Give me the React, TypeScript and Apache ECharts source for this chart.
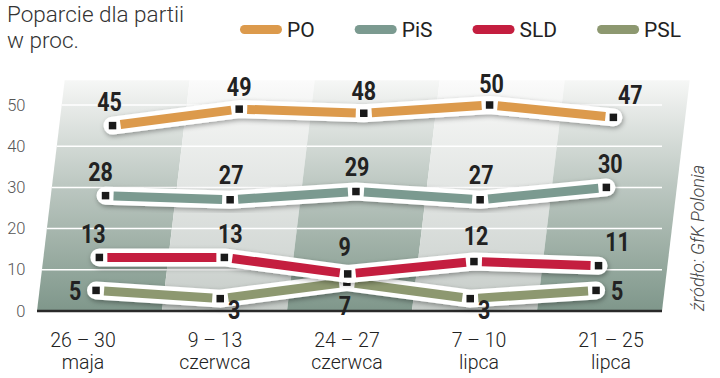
import React, { useEffect, useRef } from "react";
import * as echarts from "echarts";

// ---- data ----
const categories = ["26 – 30\nmaja", "9 – 13\nczerwca", "24 – 27\nczerwca", "7 – 10\nlipca", "21 – 25\nlipca"];
const seriesNames = ["PO", "PiS", "SLD", "PSL"];
const poValues = [45, 49, 48, 50, 47];
const pisValues = [28, 27, 29, 27, 30];
const sldValues = [13, 13, 9, 12, 11];
const pslValues = [5, 3, 7, 3, 5];
const yTicks = [0, 10, 20, 30, 40, 50];
const titleText = "Poparcie dla partii\nw proc.";
const sourceText = "źródło: GfK Polonia";

// ---- styles ----
const colors: Record<string, string> = { PO: "#dc9a4c", PiS: "#7b9a90", SLD: "#c41e3f", PSL: "#8d9870" };
// label offsets (dx, dy) relative to marker, per series
const labelOffsets: Record<string, number[][]> = {
  PO: [[-3, -23], [0, -22], [0, -22], [2, -21], [17, -22]],
  PiS: [[-5, -23], [1, -24], [1, -24], [1, -24], [4, -23]],
  SLD: [[-6, -23], [6, -23], [-3, -26], [2, -25], [19, -23]],
  PSL: [[-21, 1], [14, 12], [-2, 24], [14, 12], [21, 1]],
};
const SHEAR = 0.1;
const BG_SHEAR = 0.12;
const BG_TOP_VALUE = 56;
const LABEL_FONT = "Roboto, 'DejaVu Sans', sans-serif";

const valuesByName: Record<string, number[]> = { PO: poValues, PiS: pisValues, SLD: sldValues, PSL: pslValues };

function makePartySeries(name: string) {
  const vals = valuesByName[name];
  const color = colors[name];
  return {
    type: "custom",
    name,
    coordinateSystem: "cartesian2d",
    xAxisIndex: 0,
    yAxisIndex: 0,
    itemStyle: { color },
    z: 3,
    silent: true,
    encode: { x: 0, y: 1 },
    data: vals.map((v, i) => [i, v]),
    renderItem: (params: any, api: any) => {
      if (params.dataIndex !== 0) return null;
      const pts = vals.map((v, i) => {
        const c = api.coord([i, v]);
        const y0 = api.coord([i, 0])[1];
        return [c[0] + SHEAR * (y0 - c[1]), c[1]];
      });
      const children: any[] = [];
      children.push({
        type: "polyline",
        shape: { points: pts },
        style: {
          stroke: "#ffffff",
          lineWidth: 18,
          lineCap: "round",
          lineJoin: "round",
          fill: null,
          shadowBlur: 5,
          shadowColor: "rgba(0,0,0,0.35)",
          shadowOffsetY: 2,
          shadowOffsetX: 1,
        },
      });
      const gap = 8;
      for (let i = 0; i < pts.length - 1; i++) {
        const a = pts[i];
        const b = pts[i + 1];
        const dx = b[0] - a[0];
        const dy = b[1] - a[1];
        const len = Math.sqrt(dx * dx + dy * dy);
        const ux = dx / len;
        const uy = dy / len;
        children.push({
          type: "line",
          shape: { x1: a[0] + ux * gap, y1: a[1] + uy * gap, x2: b[0] - ux * gap, y2: b[1] - uy * gap },
          style: { stroke: color, lineWidth: 9, lineCap: "butt" },
        });
      }
      pts.forEach((p, i) => {
        children.push({
          type: "rect",
          shape: { x: p[0] - 3.75, y: p[1] - 3.75, width: 7.5, height: 7.5 },
          style: { fill: "#1a1a1a" },
        });
        const off = labelOffsets[name][i];
        children.push({
          type: "text",
          x: p[0] + off[0],
          y: p[1] + off[1],
          scaleX: 0.86,
          style: {
            text: String(vals[i]),
            fill: "#222222",
            fontSize: 25,
            fontWeight: "bold",
            fontFamily: LABEL_FONT,
            align: "center",
            verticalAlign: "middle",
            textAlign: "center",
            textVerticalAlign: "middle",
          },
        });
      });
      return { type: "group", children };
    },
  };
}

const bgSeries = {
  type: "custom",
  name: "bg",
  coordinateSystem: "cartesian2d",
  xAxisIndex: 0,
  yAxisIndex: 0,
  silent: true,
  z: 1,
  data: categories.map((_, i) => [i, 0]),
  encode: { x: 0, y: 1 },
  renderItem: (params: any, api: any) => {
    const i = params.dataIndex;
    const c = api.coord([i, 0]);
    const bw = api.size([1, 0])[0];
    const y0 = c[1];
    const yTop = api.coord([i, BG_TOP_VALUE])[1];
    const xl0 = c[0] - bw / 2 + 5.5;
    const xr0 = xl0 + bw;
    const sh = (y: number) => BG_SHEAR * (y0 - y);
    const dark = i % 2 === 0;
    const stops = dark
      ? [
          { offset: 0, color: "#f6f7f6" },
          { offset: 0.12, color: "#e7eae8" },
          { offset: 0.45, color: "#bdc8c2" },
          { offset: 0.75, color: "#9bada3" },
          { offset: 1, color: "#7f978b" },
        ]
      : [
          { offset: 0, color: "#fbfbfb" },
          { offset: 0.12, color: "#f3f4f3" },
          { offset: 0.45, color: "#e3e6e4" },
          { offset: 0.75, color: "#d4d9d6" },
          { offset: 1, color: "#c5cbc7" },
        ];
    const children: any[] = [
      {
        type: "polygon",
        shape: {
          points: [
            [xl0, y0],
            [xr0, y0],
            [xr0 + sh(yTop), yTop],
            [xl0 + sh(yTop), yTop],
          ],
        },
        style: { fill: new echarts.graphic.LinearGradient(0, 0, 0, 1, stops) },
      },
    ];
    yTicks.forEach((t) => {
      if (t === 0) return;
      const y = api.coord([i, t])[1];
      const xr = i === categories.length - 1 ? xr0 : xr0 + sh(y);
      children.push({
        type: "line",
        shape: { x1: xl0 + sh(y), y1: y, x2: xr, y2: y },
        style: { stroke: "#ffffff", lineWidth: 1.5 },
      });
    });
    children.push({
      type: "line",
      shape: { x1: xl0, y1: y0, x2: xr0, y2: y0 },
      style: { stroke: "#2a2a2a", lineWidth: 2.5 },
    });
    return { type: "group", children };
  },
};

export default function App() {
  const ref = useRef<HTMLDivElement>(null);
  useEffect(() => {
    document.body.style.margin = "0";
    if (!ref.current) return;
    const chart = echarts.init(ref.current, null, { renderer: "svg" });
    chart.setOption({
      animation: false,
      backgroundColor: "#ffffff",
      title: {
        text: titleText,
        left: 7,
        top: 1,
        padding: 0,
        textStyle: { fontSize: 22.5, fontWeight: 300, fontFamily: "Roboto", color: "#333333", lineHeight: 26 },
      },
      legend: {
        data: seriesNames,
        left: 240,
        top: 19,
        padding: 0,
        itemWidth: 42,
        itemHeight: 9,
        itemGap: 40,
        selectedMode: false,
        icon: "path://M4.5,0 H37.5 A4.5,4.5 0 0 1 37.5,9 H4.5 A4.5,4.5 0 0 1 4.5,0 Z",
        textStyle: { fontSize: 21, color: "#222222", fontFamily: "Roboto", fontWeight: "normal" },
      },
      grid: [
        { left: 31.5, right: 63.5, top: 105, bottom: 67 },
        { left: 17, right: 43, top: 105, bottom: 67 },
      ],
      xAxis: [
        {
          type: "category",
          gridIndex: 0,
          data: categories,
          boundaryGap: true,
          axisLine: { show: false },
          axisTick: { show: false },
          axisLabel: { show: false },
          splitLine: { show: false },
        },
        {
          type: "category",
          gridIndex: 1,
          data: categories,
          boundaryGap: true,
          axisLine: { show: false },
          axisTick: { show: false },
          axisLabel: {
            interval: 0,
            margin: 18,
            fontSize: 19.5,
            lineHeight: 22,
            color: "#222222",
            fontFamily: "Roboto",
            fontWeight: 300,
          },
          splitLine: { show: false },
        },
      ],
      yAxis: [
        {
          type: "value",
          gridIndex: 0,
          min: 0,
          max: 50,
          interval: 10,
          axisLine: { show: false },
          axisTick: { show: false },
          splitLine: { show: false },
          axisLabel: { margin: 6, fontSize: 16.5, color: "#555555", fontFamily: "Roboto", fontWeight: 300 },
        },
        { type: "value", gridIndex: 1, min: 0, max: 1, show: false },
      ],
      graphic: [
        {
          type: "text",
          x: 697,
          y: 238,
          rotation: Math.PI / 2,
          style: {
            text: sourceText,
            fontSize: 18,
            fontStyle: "italic",
            fontWeight: 300,
            fontFamily: "Roboto",
            fill: "#444444",
            align: "center",
            verticalAlign: "middle",
            textAlign: "center",
            textVerticalAlign: "middle",
          },
        },
      ],
      series: [bgSeries, ...["PSL", "SLD", "PiS", "PO"].map(makePartySeries)],
    });
    return () => chart.dispose();
  }, []);
  return <div ref={ref} style={{ position: "fixed", left: 0, top: 0, width: 720, height: 378 }} />;
}
